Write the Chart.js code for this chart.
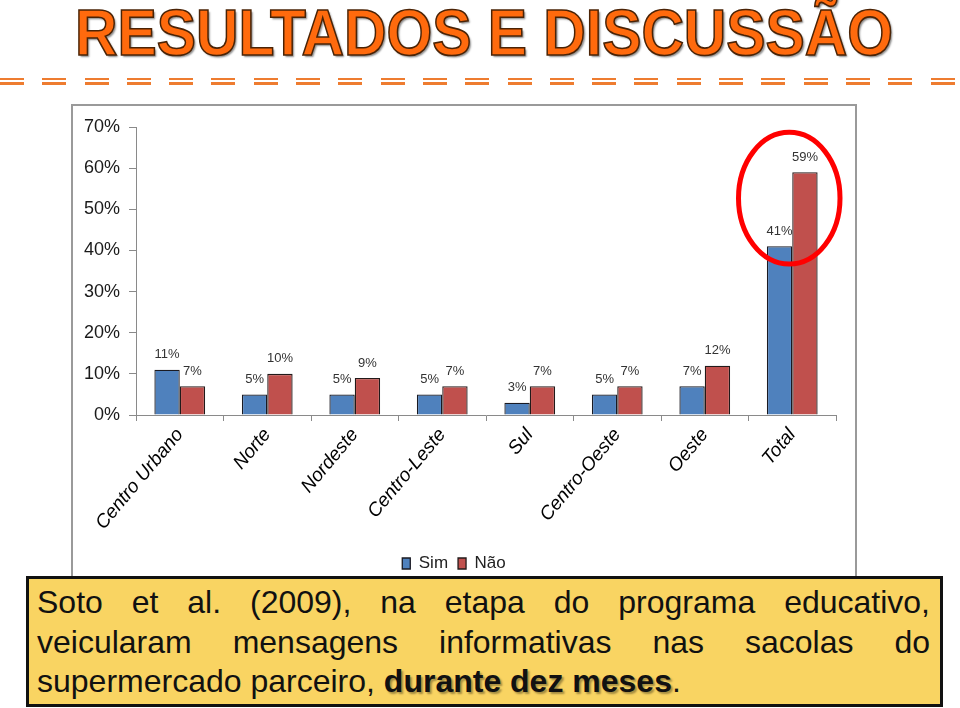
<!DOCTYPE html>
<html>
<head>
<meta charset="utf-8">
<script src="https://cdn.jsdelivr.net/npm/chart.js@4.4.1/dist/chart.umd.min.js"></script>
<style>
  html, body { margin: 0; padding: 0; background: #fff; }
  body { width: 960px; height: 708px; position: relative; overflow: hidden; font-family: "Liberation Sans", Arial, sans-serif; }
  #title { position: absolute; left: 75px; top: -5px; white-space: nowrap; font-weight: bold; font-size: 64px;
    color: #FF6A0D; -webkit-text-stroke: 1.6px #4a2306; text-shadow: 2px 2px 2px rgba(0,0,0,0.45);
    transform-origin: 0 0; line-height: 76px; }
  .dash { position: absolute; left: 0; width: 960px; height: 2.5px;
    background: repeating-linear-gradient(to right, #EE7C30 0px, #EE7C30 24px, transparent 24px, transparent 42.3px); }
  #frame { position: absolute; left: 71px; top: 104px; width: 786px; height: 500px; box-sizing: border-box; border: 2px solid #9a9a9a; }
  #chart { position: absolute; left: 72px; top: 105px; }
  #note { position: absolute; left: 26px; top: 576px; width: 917px; height: 131px; box-sizing: border-box;
    border: 3px solid #111; background: #F9D462; padding: 4px 10px 0 8px; font-size: 32px; color: #111; z-index: 5; }
  #note .ln { line-height: 39.5px; height: 39.5px; white-space: nowrap; }
  #note .j { text-align: justify; text-align-last: justify; white-space: normal; }
  #note b { text-shadow: 2px 2px 2px rgba(0,0,0,0.35); }
</style>
</head>
<body>
<div id="title">RESULTADOS E DISCUSSÃO</div>
<div class="dash" style="top:77.5px"></div>
<div class="dash" style="top:82px"></div>
<div id="frame"></div>
<canvas id="chart" width="783" height="480"></canvas>
<div id="note">
  <div class="ln j">Soto et al. (2009), na etapa do programa educativo,</div>
  <div class="ln j">veicularam mensagens informativas nas sacolas do</div>
  <div class="ln">supermercado parceiro, <b>durante dez meses</b>.</div>
</div>
<script>
const categories = ['Centro Urbano', 'Norte', 'Nordeste', 'Centro-Leste', 'Sul', 'Centro-Oeste', 'Oeste', 'Total'];
const simValues = [11, 5, 5, 5, 3, 5, 7, 41];
const naoValues = [7, 10, 9, 7, 7, 7, 12, 59];
const seriesNames = ['Sim', 'Não'];
const yTicks = [0, 10, 20, 30, 40, 50, 60, 70];

// fit title width
(function(){
  const t = document.getElementById('title');
  const w = t.getBoundingClientRect().width;
  t.style.transform = 'scaleX(' + (818 / w) + ')';
})();

const valueLabels = {
  id: 'valueLabels',
  afterDatasetsDraw(chart) {
    const ctx = chart.ctx;
    ctx.save();
    ctx.font = '13px "Liberation Sans", Arial, sans-serif';
    ctx.fillStyle = '#333';
    ctx.textAlign = 'center';
    ctx.textBaseline = 'middle';
    chart.data.datasets.forEach((ds, di) => {
      chart.getDatasetMeta(di).data.forEach((bar, i) => {
        ctx.fillText(ds.data[i] + '%', bar.x, bar.y - 15);
      });
    });
    ctx.restore();
  }
};

const highlight = {
  id: 'highlight',
  afterDraw(chart) {
    const x = chart.scales.x, y = chart.scales.y;
    const idx = categories.length - 1;
    const catW = x.getPixelForValue(1) - x.getPixelForValue(0);
    const cx = x.getPixelForValue(idx) - 3;
    const cy = y.getPixelForValue(52.7);
    const ry = y.getPixelForValue(0) - y.getPixelForValue(16);
    const rx = catW * 0.58;
    const ctx = chart.ctx;
    ctx.save();
    ctx.strokeStyle = '#FF0000';
    ctx.lineWidth = 5;
    ctx.beginPath();
    ctx.ellipse(cx, cy, rx, ry, 0, 0, Math.PI * 2);
    ctx.stroke();
    ctx.restore();
  }
};

new Chart(document.getElementById('chart'), {
  type: 'bar',
  data: {
    labels: categories,
    datasets: [
      { label: seriesNames[0], data: simValues, backgroundColor: '#4F81BD', borderColor: '#1a1a22', borderWidth: 1.3 },
      { label: seriesNames[1], data: naoValues, backgroundColor: '#C0504D', borderColor: '#221a1a', borderWidth: 1.3 }
    ]
  },
  options: {
    responsive: false,
    animation: false,
    devicePixelRatio: 1,
    layout: { padding: { top: 22, right: 19, left: 0, bottom: 3 } },
    datasets: { bar: { categoryPercentage: 0.58, barPercentage: 1.0 } },
    plugins: {
      legend: {
        position: 'bottom',
        labels: {
          font: { family: '"Liberation Sans", Arial, sans-serif', size: 17 },
          color: '#222',
          boxWidth: 8, boxHeight: 11, padding: 10
        }
      },
      tooltip: { enabled: false }
    },
    scales: {
      x: {
        afterFit(scale) { scale.height = 130; },
        grid: { display: true, drawOnChartArea: false, drawTicks: true, tickLength: 6, color: '#8a8a8a', offset: true },
        border: { display: true, color: '#8a8a8a', width: 1 },
        ticks: {
          minRotation: 50, maxRotation: 50, padding: 3,
          font: { family: '"Liberation Sans", Arial, sans-serif', size: 19, style: 'italic' },
          color: '#000'
        }
      },
      y: {
        min: 0, max: 70,
        afterFit(scale) { scale.width = 64; },
        afterBuildTicks(scale) { scale.ticks = yTicks.map(v => ({ value: v })); },
        grid: { display: true, drawOnChartArea: false, drawTicks: true, tickLength: 7, color: '#8a8a8a' },
        border: { display: true, color: '#8a8a8a', width: 1 },
        ticks: {
          padding: 9,
          font: { family: '"Liberation Sans", Arial, sans-serif', size: 18 },
          color: '#1a1a1a',
          callback: v => v + '%'
        }
      }
    }
  },
  plugins: [valueLabels, highlight]
});
</script>
</body>
</html>
